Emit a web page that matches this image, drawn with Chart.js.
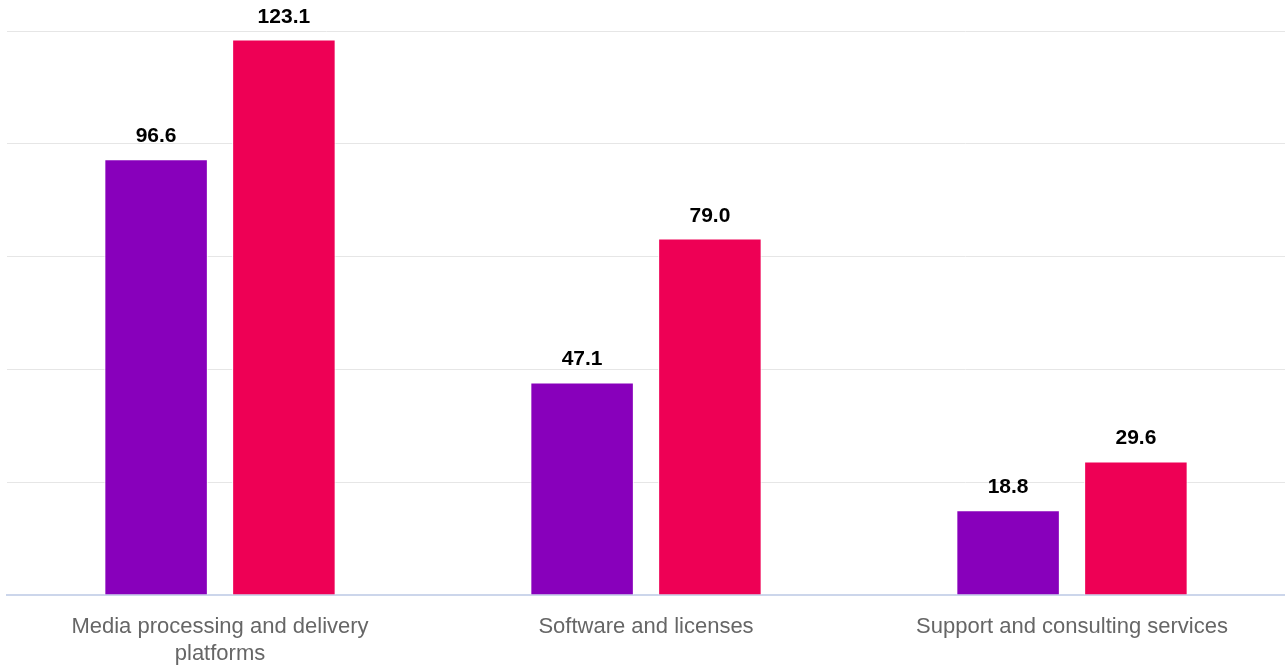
<!DOCTYPE html>
<html>
<head>
<meta charset="utf-8">
<script src="https://cdn.jsdelivr.net/npm/chart.js@4"></script>
<style>
  html, body { margin: 0; padding: 0; background: #ffffff; }
  #wrap { width: 1285px; height: 669px; }
</style>
</head>
<body>
<div id="wrap"><canvas id="revenueChart"></canvas></div>
<script>
const categories = [
    ['Media processing and delivery', 'platforms'],
    'Software and licenses',
    'Support and consulting services'
];
const seriesA = [96.6, 47.1, 18.8];
const seriesB = [123.1, 79.0, 29.6];
const yTicks = [0, 25, 50, 75, 100, 125];

// draws the value above each bar
const valueLabels = {
    id: 'valueLabels',
    afterDatasetsDraw(chart) {
        const ctx = chart.ctx;
        ctx.save();
        ctx.font = 'bold 21px "Liberation Sans", Arial, sans-serif';
        ctx.fillStyle = '#000000';
        ctx.textAlign = 'center';
        ctx.textBaseline = 'alphabetic';
        chart.data.datasets.forEach((ds, i) => {
            chart.getDatasetMeta(i).data.forEach((bar, j) => {
                ctx.fillText(ds.data[j].toFixed(1), bar.x, bar.y - 17);
            });
        });
        ctx.restore();
    }
};

const ctx = document.getElementById('revenueChart').getContext('2d');
new Chart(ctx, {
    type: 'bar',
    data: {
        labels: categories,
        datasets: [
            {
                label: 'Series 1',
                data: seriesA,
                backgroundColor: '#8800bb',
                borderColor: '#ffffff',
                borderWidth: 1,
                categoryPercentage: 0.6,
                barPercentage: 0.81
            },
            {
                label: 'Series 2',
                data: seriesB,
                backgroundColor: '#ee0055',
                borderColor: '#ffffff',
                borderWidth: 1,
                categoryPercentage: 0.6,
                barPercentage: 0.81
            }
        ]
    },
    options: {
        responsive: true,
        maintainAspectRatio: false,
        animation: false,
        layout: { padding: { left: 7, right: 0, top: 31, bottom: 0 } },
        plugins: {
            legend: { display: false },
            tooltip: { enabled: false }
        },
        scales: {
            x: {
                afterFit: (scale) => { scale.height = 74; },
                grid: { display: false },
                border: { color: '#ccd6eb', width: 2 },
                ticks: {
                    color: '#666666',
                    padding: 10,
                    maxRotation: 0,
                    font: { family: '"Liberation Sans", Arial, sans-serif', size: 22, lineHeight: 1.25 }
                }
            },
            y: {
                min: 0,
                max: 125,
                afterBuildTicks: (axis) => { axis.ticks = yTicks.map(v => ({ value: v })); },
                grid: { color: '#e6e6e6', drawTicks: false },
                border: { display: false },
                ticks: { display: false }
            }
        }
    },
    plugins: [valueLabels]
});
</script>
</body>
</html>
